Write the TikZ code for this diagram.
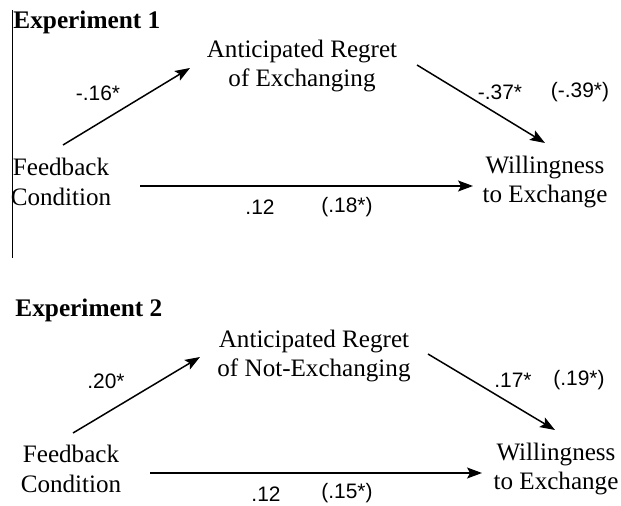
\documentclass[tikz,border=0pt]{standalone}
\usepackage{fontspec}
\setmainfont{Liberation Serif}
\newfontfamily\coeffont{Liberation Sans}
\usetikzlibrary{arrows.meta}
\tikzset{
  varlabel/.style={align=center,inner sep=0pt,font=\fontsize{12.6}{15}\selectfont},
  coeflabel/.style={inner sep=0pt,font=\coeffont\fontsize{10.5}{12}\selectfont},
  paneltitle/.style={anchor=base west,inner sep=0pt,font=\bfseries\fontsize{12.7}{15}\selectfont},
  patharrow/.style={-{Stealth[length=7.5pt,width=5.5pt,inset=1.5pt]},line width=0.75pt},
  every picture/.style={line join=miter}
}

\begin{document}
\begin{tikzpicture}[x=0.5bp,y=-0.5bp]
  \useasboundingbox (0,0) rectangle (621,506);
  \draw[line width=0.5pt] (12.5,10)--(12.5,258);

  % Experiment 1
  \node[paneltitle] (titleA) at (13,29) {Experiment 1};
  \node[varlabel] (feedA) at (61,182) {Feedback\\Condition};
  \node[varlabel] (regretA) at (302,66) {Anticipated Regret\\of Exchanging};
  \node[varlabel] (willA) at (545,182) {Willingness\\to Exchange};
  \coordinate (aFR) at (63,145);  \coordinate (aRF) at (190,68);
  \coordinate (aRW) at (417,65);  \coordinate (aWR) at (545,143);
  \coordinate (aFW) at (140,186); \coordinate (aWF) at (473,186);
  \draw[patharrow] (aFR)--(aRF);
  \draw[patharrow] (aRW)--(aWR);
  \draw[patharrow] (aFW)--(aWF);
  \node[coeflabel] (cA1) at (98,93) {-.16*};
  \node[coeflabel] (cA2) at (500,92) {-.37*};
  \node[coeflabel] (cA3) at (580,92) {(-.39*)};
  \node[coeflabel] (cA4) at (260,207) {.12};
  \node[coeflabel] (cA5) at (347,207) {(.18*)};

  % Experiment 2
  \node[paneltitle] (titleB) at (15,316) {Experiment 2};
  \node[varlabel] (feedB) at (71,469) {Feedback\\Condition};
  \node[varlabel] (regretB) at (314,356) {Anticipated Regret\\of Not-Exchanging};
  \node[varlabel] (willB) at (556,469) {Willingness\\to Exchange};
  \coordinate (bFR) at (73,433);  \coordinate (bRF) at (200,357);
  \coordinate (bRW) at (428,354); \coordinate (bWR) at (555,430);
  \coordinate (bFW) at (150,473); \coordinate (bWF) at (482,473);
  \draw[patharrow] (bFR)--(bRF);
  \draw[patharrow] (bRW)--(bWR);
  \draw[patharrow] (bFW)--(bWF);
  \node[coeflabel] (cB1) at (106,381) {.20*};
  \node[coeflabel] (cB2) at (513,380) {.17*};
  \node[coeflabel] (cB3) at (579,380) {(.19*)};
  \node[coeflabel] (cB4) at (266,494) {.12};
  \node[coeflabel] (cB5) at (347,493) {(.15*)};
\end{tikzpicture}
\end{document}
